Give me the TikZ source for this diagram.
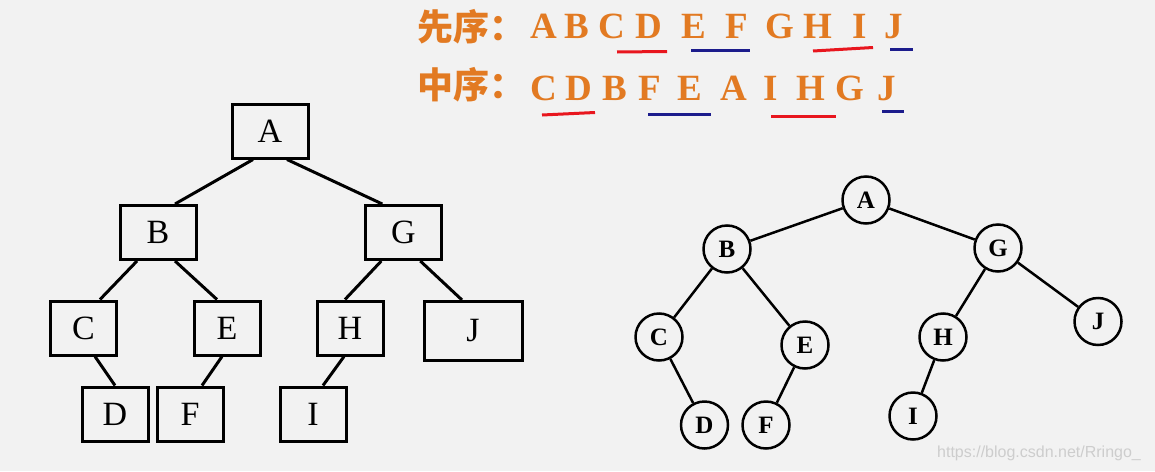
\documentclass[tikz,border=0pt]{standalone}
\usepackage{fontspec}
\setmainfont{Liberation Serif}
\newfontfamily\cjk{Noto Sans CJK SC}
\newfontfamily\wmfont{Liberation Sans}
\usetikzlibrary{calc}
\definecolor{bg}{RGB}{242,242,242}
\definecolor{org}{RGB}{226,122,34}
\definecolor{ured}{RGB}{232,22,30}
\definecolor{ublue}{RGB}{28,28,140}
\definecolor{wm}{RGB}{205,205,205}
\begin{document}
\begin{tikzpicture}[x=1pt,y=-1pt,
  sq/.style={draw,line width=3pt,inner sep=0pt,minimum width=66pt,minimum height=54pt,
    font=\fontsize{34}{40}\selectfont},
  wide/.style={minimum width=76pt},
  circ/.style={draw,circle,line width=2.5pt,inner sep=0pt,minimum size=47pt,
    font=\fontsize{25}{30}\selectfont\bfseries},
  edge/.style={line width=3pt},
  cedge/.style={line width=2.5pt},
  hdr/.style={text=org,inner sep=0pt,anchor=west,font=\fontsize{36}{40}\selectfont\cjk\bfseries},
  let/.style={text=org,inner sep=0pt,anchor=base,font=\fontsize{37}{40}\selectfont\bfseries},
  ul/.style={line width=3pt},
]
\fill[bg] (0,0) rectangle (1155,471);
\useasboundingbox (0,0) rectangle (1155,471);

% header text
\node[hdr] (h1) at (417,27) {先序：};
\node[hdr] (h2) at (417,85) {中序：};
\foreach \l/\x [count=\i] in {A/544,B/577,C/612,D/649,E/694,F/737,G/780,H/818,I/860,J/894}
  \node[let] (p\i) at (\x,38) {\l};
\foreach \l/\x [count=\i] in {C/544,D/579,B/615,F/650,E/690,A/734,I/771,H/811,G/850,J/887}
  \node[let] (m\i) at (\x,100) {\l};

% underlines
\draw[ul,ured] (617,52) -- (667,51.5);
\draw[ul,ublue] (691,50) -- (750,50);
\draw[ul,ured] (813,51) -- (873,47.5);
\draw[ul,ublue] (890,49) -- (913,49);
\draw[ul,ured] (542,115) -- (595,112.5);
\draw[ul,ublue] (648,114) -- (711,114);
\draw[ul,ured] (771,116) -- (836,116);
\draw[ul,ublue] (882,111.5) -- (904,111.5);

% left tree (boxes)
\node[sq,wide] (A) at (270,131) {A};
\node[sq,wide] (B) at (158,232.5) {B};
\node[sq,wide] (G) at (403.3,232.5) {G};
\node[sq] (C) at (83.5,328) {C};
\node[sq] (E) at (227,328) {E};
\node[sq] (H) at (350,328) {H};
\node[sq,minimum width=98pt,minimum height=59pt] (J) at (473,331) {J};
\node[sq] (D) at (115,414) {D};
\node[sq] (F) at (190,414) {F};
\node[sq] (I) at (313,414) {I};

\draw[edge] ($(A.south)+(-17,0)$) -- ($(B.north)+(17,0)$);
\draw[edge] ($(A.south)+(17,0)$) -- ($(G.north)+(-21,0)$);
\draw[edge] ($(B.south)+(-21,0)$) -- ($(C.north)+(16.5,0)$);
\draw[edge] ($(B.south)+(17,0)$) -- ($(E.north)+(-10,0)$);
\draw[edge] ($(G.south)+(-22,0)$) -- ($(H.north)+(-5,0)$);
\draw[edge] ($(G.south)+(17,0)$) -- ($(J.north)+(-11,0)$);
\draw[edge] ($(C.south)+(11.5,0)$) -- (D.north);
\draw[edge] ($(E.south)+(-5,0)$) -- ($(F.north)+(12,0)$);
\draw[edge] ($(H.south)+(-6,0)$) -- ($(I.north)+(10,0)$);

% right tree (circles)
\node[circ] (rA) at (866,200) {A};
\node[circ] (rB) at (727,249) {B};
\node[circ] (rG) at (998,248) {G};
\node[circ] (rC) at (659,337) {C};
\node[circ] (rE) at (805,345) {E};
\node[circ] (rH) at (943,337) {H};
\node[circ] (rJ) at (1098,321.5) {J};
\node[circ] (rD) at (704.5,425) {D};
\node[circ] (rF) at (766,425) {F};
\node[circ] (rI) at (913,416) {I};

\draw[cedge] (rA) -- (rB);
\draw[cedge] (rA) -- (rG);
\draw[cedge] (rB) -- (rC);
\draw[cedge] (rB) -- (rE);
\draw[cedge] (rG) -- (rH);
\draw[cedge] (rG) -- (rJ);
\draw[cedge] (rC) -- (rD);
\draw[cedge] (rE) -- (rF);
\draw[cedge] (rH) -- (rI);

% watermark
\node[text=wm,inner sep=0pt,font=\fontsize{16}{18}\selectfont\wmfont] (wmk) at (1039,453) {https://blog.csdn.net/Rringo\_};
\end{tikzpicture}
\end{document}
